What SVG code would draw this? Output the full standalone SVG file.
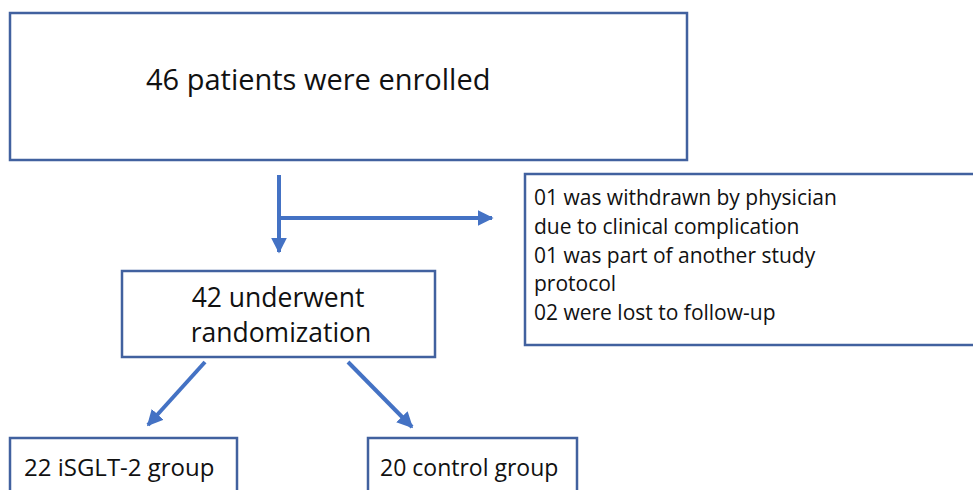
<svg xmlns="http://www.w3.org/2000/svg" width="973" height="490" viewBox="0 0 973 490">
<defs>
<marker id="ah" viewBox="0 0 10 10" refX="9" refY="5" markerWidth="4" markerHeight="4" orient="auto" markerUnits="strokeWidth">
<path d="M0,0 L10,5 L0,10 z" fill="#4472C4"/>
</marker>
<style>
.box{fill:#fff;stroke:#41619f;stroke-width:2.5}
.t{font-family:"Open Sans","Liberation Sans",sans-serif;fill:#111}
.conn{stroke:#4472C4;stroke-width:4;fill:none}
</style>
</defs>
<rect width="973" height="490" fill="#fff"/>
<g id="enrolled">
<rect class="box" x="10" y="13" width="677" height="147"/>
<text class="t" x="146" y="90" font-size="29">46 patients were enrolled</text>
</g>
<g id="excluded">
<rect class="box" x="525" y="174" width="460" height="171"/>
<text class="t" x="534" y="205" font-size="21">01 was withdrawn by physician</text>
<text class="t" x="534" y="234" font-size="21">due to clinical complication</text>
<text class="t" x="534" y="263" font-size="21">01 was part of another study</text>
<text class="t" x="534" y="291" font-size="21">protocol</text>
<text class="t" x="534" y="320" font-size="21">02 were lost to follow-up</text>
</g>
<g id="randomization">
<rect class="box" x="122" y="271" width="313" height="86"/>
<text class="t" x="278" y="307" font-size="26.5" text-anchor="middle">42 underwent</text>
<text class="t" x="281" y="342" font-size="26.5" text-anchor="middle">randomization</text>
</g>
<g id="isglt">
<rect class="box" x="10" y="438" width="227" height="70"/>
<text class="t" x="24" y="476" font-size="24">22 iSGLT-2 group</text>
</g>
<g id="control">
<rect class="box" x="368" y="438" width="209" height="70"/>
<text class="t" x="380" y="476" font-size="23">20 control group</text>
</g>
<g id="connectors">
<line class="conn" x1="279" y1="175" x2="279" y2="252" marker-end="url(#ah)"/>
<line class="conn" x1="279" y1="218" x2="492" y2="218" marker-end="url(#ah)"/>
<line class="conn" x1="205" y1="362" x2="148" y2="425" marker-end="url(#ah)"/>
<line class="conn" x1="348" y1="362" x2="412" y2="427" marker-end="url(#ah)"/>
</g>
</svg>
